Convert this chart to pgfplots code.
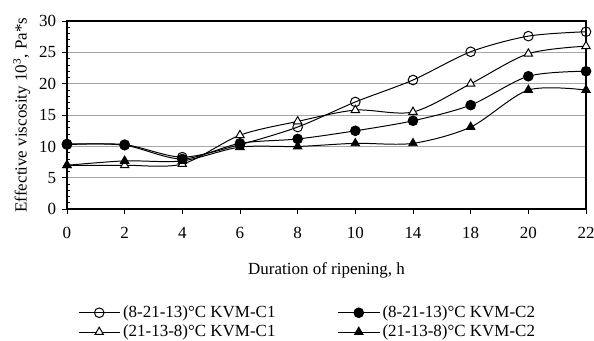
\documentclass[border=0pt]{standalone}
\usepackage{fontspec}
\setmainfont{Liberation Serif}
\usepackage{pgfplots}
\pgfplotsset{compat=1.18}
\begin{document}
\fontsize{12}{14}\selectfont
\begin{tikzpicture}
\begin{axis}[
  scale only axis,
  width=367pt, height=133pt,
  xmin=0, xmax=9, ymin=0, ymax=30,
  xtick={0,...,9},
  xticklabels={0,2,4,6,8,10,14,18,20,22},
  ytick={0,5,...,30},
  minor y tick num=4,
  tick pos=left,
  tick align=outside,
  major tick length=3.5pt,
  minor tick length=2.5pt,
  minor y tick style={xshift=2.5pt},
  tick style={black, line width=0.6pt},
  ymajorgrids,
  grid style={gray!70, line width=0.6pt},
  axis line style={black, line width=1.3pt},
  /pgf/number format/assume math mode=true,
  ticklabel style={font=\fontsize{12}{14}\selectfont},
  xticklabel style={yshift=-5pt},
  xlabel={Duration of ripening, h},
  ylabel={Effective viscosity 10\textsuperscript{3}, Pa*s},
  label style={font=\fontsize{12}{14}\selectfont},
  xlabel style={yshift=-9pt},
  ylabel style={yshift=-2pt},
  clip=false,
  legend columns=2,
  legend cell align=left,
  legend style={draw=none, fill=none, at={(rel axis cs:0.013,-0.481)}, anchor=north west,
    font=\fontsize{12}{14}\selectfont, row sep=-0.5pt,
    /tikz/every even column/.append style={column sep=42pt}},
  legend image code/.code={\draw[mark repeat=2,mark phase=2] plot coordinates {(0pt,0pt) (14.5pt,0pt) (29pt,0pt)};},
  every axis plot/.append style={black, line width=0.7pt, smooth, tension=0.5, mark size=3.4pt, mark options={solid, line width=0.6pt}},
]
\addplot[mark=o, mark options={fill=white}] coordinates {(0,10.3) (1,10.3) (2,8.3) (3,10.3) (4,13.1) (5,17.1) (6,20.6) (7,25.1) (8,27.6) (9,28.3)};
\addlegendentry{(8-21-13)°C KVM-C1}
\addplot[mark=*, mark options={fill=black}] coordinates {(0,10.4) (1,10.2) (2,8.0) (3,10.5) (4,11.2) (5,12.5) (6,14.1) (7,16.6) (8,21.2) (9,22.0)};
\addlegendentry{(8-21-13)°C KVM-C2}
\addplot[mark=triangle*, mark options={fill=white}] coordinates {(0,7.0) (1,7.0) (2,7.2) (3,11.8) (4,14.0) (5,15.8) (6,15.5) (7,20.0) (8,24.8) (9,26.0)};
\addlegendentry{(21-13-8)°C KVM-C1}
\addplot[mark=triangle*, mark options={fill=black}] coordinates {(0,7.0) (1,7.7) (2,7.7) (3,9.9) (4,10.0) (5,10.5) (6,10.5) (7,13.1) (8,19.0) (9,19.0)};
\addlegendentry{(21-13-8)°C KVM-C2}
\coordinate (bbl) at (rel axis cs:-0.129,-0.697);
\coordinate (btr) at (rel axis cs:1.0154,1.112);
\end{axis}
\pgfresetboundingbox
\path[use as bounding box] (bbl) rectangle (btr);
\end{tikzpicture}
\end{document}
